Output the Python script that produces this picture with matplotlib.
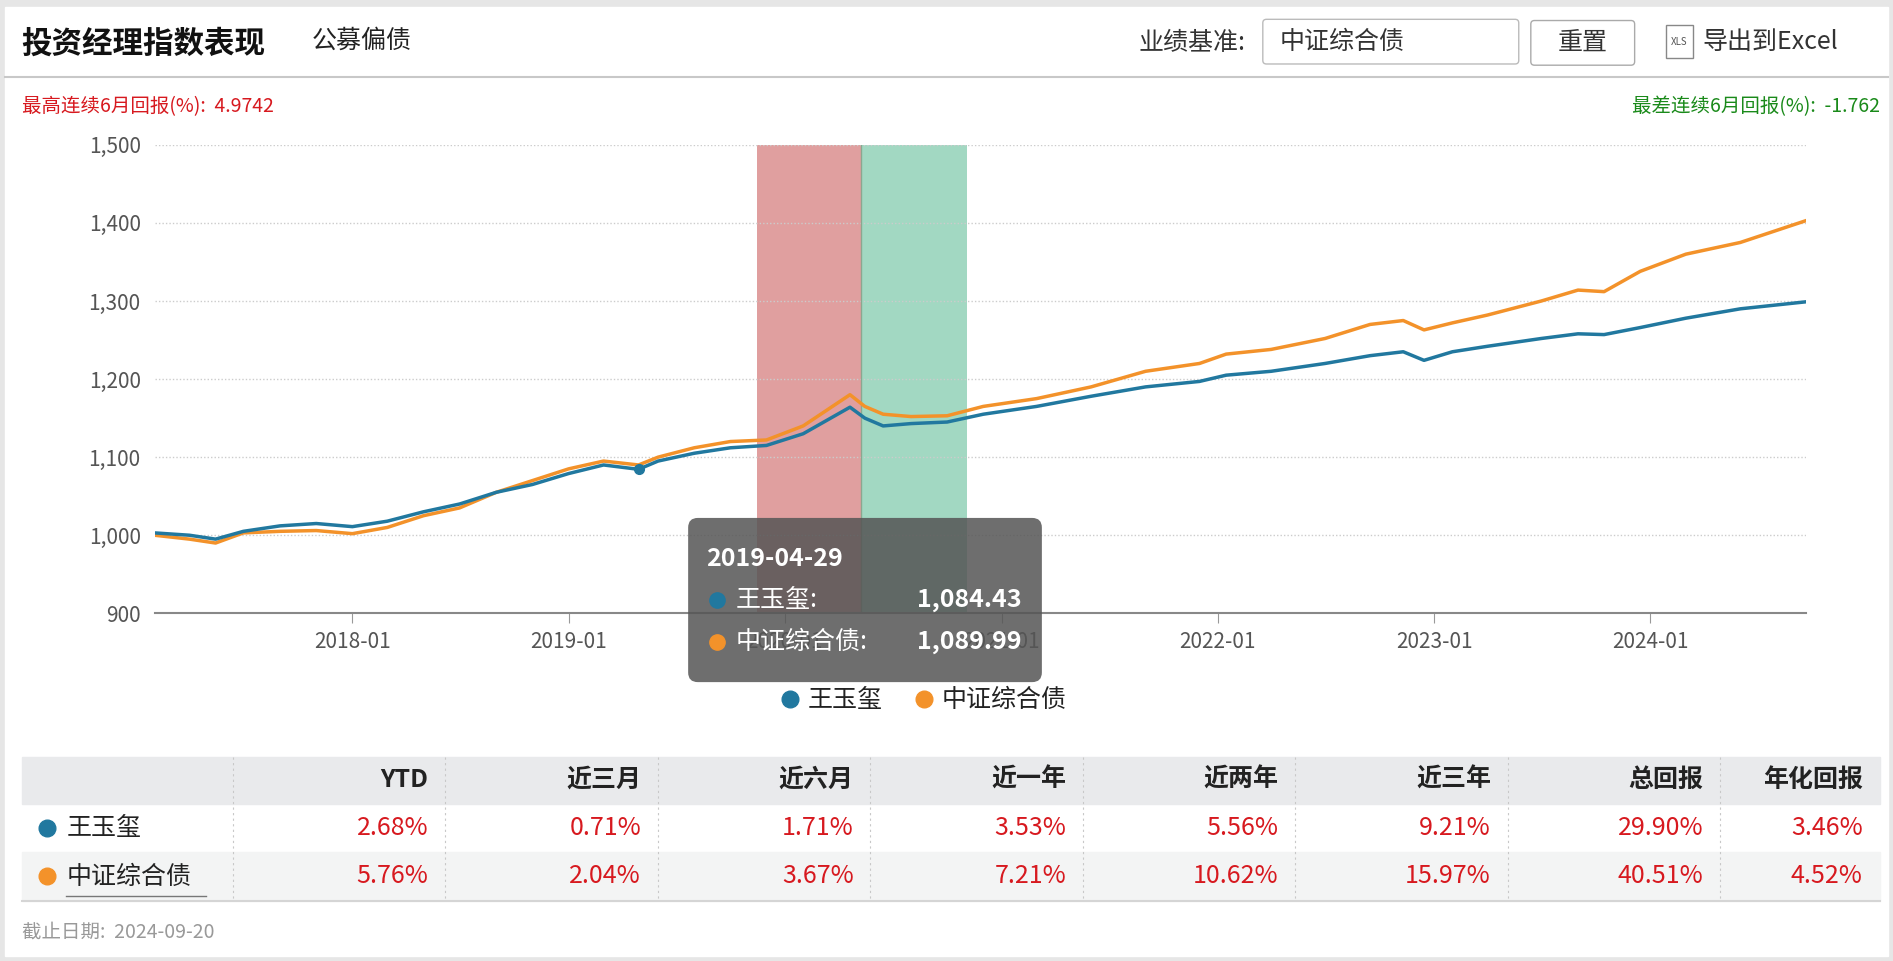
import matplotlib
matplotlib.use("Agg")
import matplotlib.pyplot as plt
import matplotlib.dates as mdates
from matplotlib.patches import Rectangle, FancyBboxPatch
import numpy as np

plt.rcParams["font.family"] = ["Noto Sans CJK SC", "DejaVu Sans"]

# ---------------- data ----------------
dates = ["2017-02-01", "2017-04-01", "2017-05-15", "2017-07-01", "2017-09-01", "2017-11-01",
         "2018-01-01", "2018-03-01", "2018-05-01", "2018-07-01", "2018-09-01", "2018-11-01",
         "2019-01-01", "2019-03-01", "2019-04-29", "2019-06-01", "2019-08-01", "2019-10-01",
         "2019-12-01", "2020-02-01", "2020-04-20", "2020-05-15", "2020-06-15", "2020-08-01",
         "2020-10-01", "2020-12-01", "2021-03-01", "2021-06-01", "2021-09-01", "2021-12-01",
         "2022-01-15", "2022-04-01", "2022-07-01", "2022-09-15", "2022-11-10", "2022-12-15",
         "2023-02-01", "2023-04-01", "2023-07-01", "2023-09-01", "2023-10-15", "2023-12-15",
         "2024-03-01", "2024-06-01", "2024-09-20"]
manager = [1003, 1000, 995, 1005, 1012, 1015,
           1011, 1018, 1030, 1040, 1055, 1065,
           1079, 1090, 1084.43, 1095, 1105, 1112,
           1115, 1130, 1164, 1150, 1140, 1143,
           1145, 1155, 1165, 1178, 1190, 1197,
           1205, 1210, 1220, 1230, 1235, 1224,
           1235, 1242, 1252, 1258, 1257, 1266,
           1278, 1290, 1299]
bench = [1000, 995, 990, 1003, 1005, 1006,
         1002, 1010, 1025, 1035, 1055, 1070,
         1085, 1095, 1089.99, 1100, 1112, 1120,
         1122, 1140, 1180, 1165, 1155, 1152,
         1153, 1165, 1175, 1190, 1210, 1220,
         1232, 1238, 1252, 1270, 1275, 1263,
         1272, 1282, 1300, 1314, 1312, 1338,
         1360, 1375, 1403]
best_band = ("2019-11-15", "2020-05-08")
worst_band = ("2020-05-08", "2020-11-03")
yticks = [900, 1000, 1100, 1200, 1300, 1400, 1500]
series_names = ["王玉玺", "中证综合债"]
columns = ["YTD", "近三月", "近六月", "近一年", "近两年", "近三年", "总回报", "年化回报"]
row_manager = ["2.68%", "0.71%", "1.71%", "3.53%", "5.56%", "9.21%", "29.90%", "3.46%"]
row_bench = ["5.76%", "2.04%", "3.67%", "7.21%", "10.62%", "15.97%", "40.51%", "4.52%"]

BLUE = "#21789f"
ORANGE = "#f3922a"
RED = "#d7191f"
GREEN = "#1a8a1a"

W, H = 1568, 796  # layout units (reference display pixels)
fig = plt.figure(figsize=(18.93, 9.61), dpi=100)

# ---------------- background / frame ----------------
bg = fig.add_axes([0, 0, 1, 1], zorder=0)
bg.set_xlim(0, W)
bg.set_ylim(H, 0)
bg.axis("off")
bg.add_patch(Rectangle((0, 0), W, H, color="#e6e6e6"))
bg.add_patch(Rectangle((4, 6), W - 8, H - 10, color="white"))
bg.plot([4, W - 4], [64, 64], color="#c8c8c8", lw=1.5)

bg.text(18, 36, "投资经理指数表现", fontsize=22, fontweight="bold", va="center", color="#111")
bg.text(258, 34, "公募偏债", fontsize=18, va="center", color="#222")
bg.text(1032, 36, "业绩基准:", fontsize=18, va="center", ha="right", color="#333")
bg.add_patch(FancyBboxPatch((1046, 16), 212, 37, boxstyle="round,pad=0,rounding_size=3",
                            fc="white", ec="#bbbbbb", lw=1))
bg.text(1060, 35, "中证综合债", fontsize=18, va="center", color="#333")
bg.add_patch(FancyBboxPatch((1268, 17), 86, 37, boxstyle="round,pad=0,rounding_size=3",
                            fc="white", ec="#aaaaaa", lw=1))
bg.text(1311, 35, "重置", fontsize=18, va="center", ha="center", color="#333")
bg.add_patch(Rectangle((1380, 21), 22, 27, fc="white", ec="#888", lw=1))
bg.text(1391, 35, "XLS", fontsize=7, va="center", ha="center", color="#555")
bg.text(1410, 35, "导出到Excel", fontsize=18, va="center", color="#333")

bg.text(18, 88, "最高连续6月回报(%):  4.9742", fontsize=14, va="center", color=RED)
bg.text(1557, 88, "最差连续6月回报(%):  -1.762", fontsize=14, va="center", ha="right", color=GREEN)

# legend
bg.plot(654, 579, "o", color=BLUE, ms=12)
bg.text(669, 580, series_names[0], fontsize=18, va="center", color="#222")
bg.plot(765, 579, "o", color=ORANGE, ms=12)
bg.text(780, 580, series_names[1], fontsize=18, va="center", color="#222")

# ---------------- table ----------------
col_edges = [18, 193, 369, 545, 721, 897, 1073, 1249, 1425, 1557]
bg.add_patch(Rectangle((18, 627), 1539, 39, color="#e9eaec"))
bg.add_patch(Rectangle((18, 706), 1539, 40, color="#f3f4f4"))
bg.plot([18, 1557], [746, 746], color="#d5d5d5", lw=1.5)
for xe in col_edges[1:-1]:
    bg.plot([xe, xe], [627, 746], color="#c8c8c8", lw=0.8, ls=(0, (2, 3)))
for i, c in enumerate(columns):
    bg.text(col_edges[i + 2] - 14, 646, c, fontsize=18, fontweight="bold", ha="right",
            va="center", color="#222")
for yrow, vals, name, col in [(686, row_manager, series_names[0], BLUE),
                              (726, row_bench, series_names[1], ORANGE)]:
    bg.plot(39, yrow, "o", color=col, ms=12)
    bg.text(55, yrow, name, fontsize=18, va="center", color="#222")
    for i, v in enumerate(vals):
        bg.text(col_edges[i + 2] - 14, yrow, v, fontsize=18, ha="right", va="center", color=RED)
bg.plot([55, 171], [742, 742], color="#777", lw=1)
bg.text(18, 772, "截止日期:  2024-09-20", fontsize=14, va="center", color="#999")

# ---------------- chart ----------------
x0, x1, y0, y1 = 128, 1496, 120, 508
ax = fig.add_axes([x0 / W, 1 - y1 / H, (x1 - x0) / W, (y1 - y0) / H], zorder=1)
ax.patch.set_alpha(0)
d = np.array(dates, dtype="datetime64[D]")
ax.axvspan(np.datetime64(best_band[0]), np.datetime64(best_band[1]), color="#e09f9f", lw=0)
ax.axvspan(np.datetime64(worst_band[0]), np.datetime64(worst_band[1]), color="#a2d8c2", lw=0)
ax.axvline(np.datetime64(best_band[1]), color="#8aa890", lw=1)
ax.plot(d, bench, color=ORANGE, lw=2.5)
ax.plot(d, manager, color=BLUE, lw=2.5)
ax.plot(d[14], manager[14], "o", color=BLUE, ms=7)
ax.set_xlim(np.datetime64("2017-02-01"), np.datetime64("2024-09-20"))
ax.set_ylim(900, 1500)
ax.set_yticks(yticks)
ax.set_yticklabels([f"{v:,}" for v in yticks])
ax.xaxis.set_major_locator(mdates.YearLocator(month=1))
ax.xaxis.set_major_formatter(mdates.DateFormatter("%Y-%m"))
ax.grid(axis="y", color="#cccccc", ls=(0, (1, 1.5)), lw=1)
for s in ["top", "right", "left"]:
    ax.spines[s].set_visible(False)
ax.spines["bottom"].set_color("#888")
ax.spines["bottom"].set_linewidth(1.5)
ax.tick_params(axis="y", length=0, labelsize=15, labelcolor="#555", pad=10)
ax.tick_params(axis="x", length=7, color="#999", labelsize=15, labelcolor="#555", pad=6)

# ---------------- tooltip ----------------
top = fig.add_axes([0, 0, 1, 1], zorder=2)
top.set_xlim(0, W)
top.set_ylim(H, 0)
top.axis("off")
top.add_patch(FancyBboxPatch((570, 429), 293, 136, boxstyle="round,pad=0,rounding_size=8",
                             fc="#555555", ec="none", alpha=0.85))
top.text(585, 463, "2019-04-29", fontsize=18, fontweight="bold", va="center", color="white")
top.plot(594, 497, "o", color=BLUE, ms=11)
top.text(609, 497, series_names[0] + ":", fontsize=18, va="center", color="white")
top.text(846, 497, f"{manager[14]:,.2f}", fontsize=18, fontweight="bold", ha="right",
         va="center", color="white")
top.plot(594, 532, "o", color=ORANGE, ms=11)
top.text(609, 532, series_names[1] + ":", fontsize=18, va="center", color="white")
top.text(846, 532, f"{bench[14]:,.2f}", fontsize=18, fontweight="bold", ha="right",
         va="center", color="white")

fig.savefig("out.png", dpi=100)
